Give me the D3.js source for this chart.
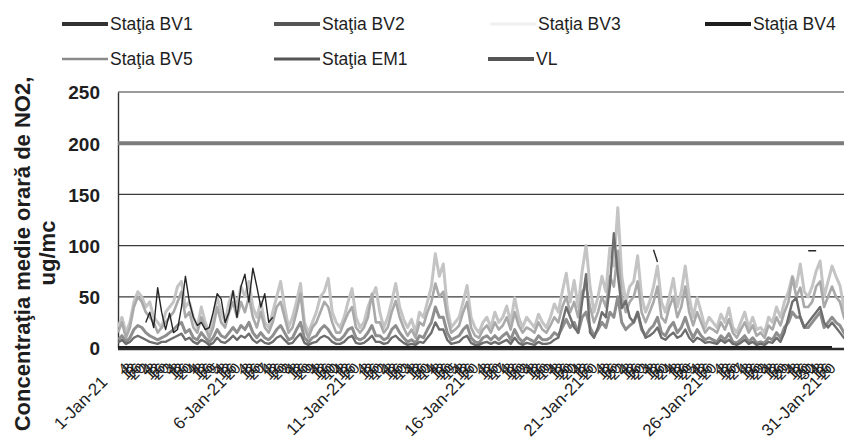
<!DOCTYPE html>
<html><head><meta charset="utf-8">
<script src="https://cdn.jsdelivr.net/npm/d3@7"></script>
<style>body{margin:0;background:#fff}svg{display:block}text{-webkit-font-smoothing:antialiased}</style>
</head><body><svg id="c" width="844" height="438"></svg>
<script>
// ---------- DATA ----------
const seriesNames = ["Staţia BV1","Staţia BV2","Staţia BV3","Staţia BV4","Staţia BV5","Staţia EM1","VL"];
const yTicks = [0, 50, 100, 150, 200, 250];
const gridTicks = [50, 100, 150, 250];
const majorDayLabels = ["1-Jan-21","6-Jan-21","11-Jan-21","16-Jan-21","21-Jan-21","26-Jan-21","31-Jan-21"];
const stepHours = 4;           // readings sampled every 4 hours (6 per day)
const vlValue = 200;           // limit value

// Staţia BV3 – lightest, tallest spikes
const bv3 = [
 20,30,15,25,45,55,  50,40,45,30,25,20,  35,40,45,60,65,40,  45,30,20,40,25,15,
 30,50,35,25,45,55,  40,60,50,65,40,30,  45,25,20,35,50,65,  40,20,30,45,63,25,
 15,25,35,50,55,68,  35,25,20,30,45,58,  30,20,25,40,50,59,  35,20,30,45,63,40,
 28,20,28,15,35,30,  45,60,92,70,82,40,  20,25,30,45,61,30,  20,15,25,30,20,35,
 25,30,41,25,49,30,  20,30,25,20,33,25,  20,30,43,35,55,73,  45,66,40,75,100,60,
 35,50,70,55,98,80,  137,70,45,60,65,90, 50,35,45,60,80,45,  35,50,68,40,55,80,
 50,30,49,35,20,30,  25,20,33,25,39,20,  15,25,35,20,30,18,  20,15,30,25,40,30,
 45,55,70,60,82,55,  50,60,75,85,50,65,  80,70,61,40,30,25
];
// Staţia BV5 – mid-light band
const bv5 = [
 15,25,10,20,40,50,  45,35,30,25,15,20,  25,30,35,45,55,30,  35,20,15,30,20,10,
 20,40,25,20,35,45,  30,45,35,50,30,20,  35,20,15,25,40,45,  30,15,20,35,53,20,
 10,20,25,35,45,40,  25,15,15,25,34,40,  20,15,20,30,53,25,  25,15,20,35,46,30,
 20,12,18,10,25,22,  35,45,63,50,55,30,  15,18,22,35,45,20,  12,10,18,22,15,25,
 18,22,30,18,35,22,  15,20,18,15,25,18,  15,22,30,25,40,50,  35,45,30,55,60,40,
 25,35,50,40,70,60,  95,50,35,45,50,65,  35,25,35,45,60,30,  25,40,50,30,40,60,
 35,22,35,25,15,20,  18,15,25,18,28,15,  10,18,25,15,22,12,  15,10,22,18,30,22,
 35,45,69,50,59,40,  40,45,60,65,40,50,  60,50,45,30,22,18
];
// Staţia BV2 – lower band
const bv2 = [
 8,12,6,10,18,22,    20,15,12,10,8,10,   12,15,18,22,25,15,  18,10,8,15,10,6,
 10,18,12,10,15,20,  15,22,18,25,15,10,  15,10,8,12,18,22,   15,8,10,18,25,10,
 6,10,12,18,22,18,   12,8,8,12,18,20,    10,8,10,15,22,12,   12,8,10,18,22,15,
 10,6,8,5,12,10,     18,25,40,30,30,15,  8,10,12,18,22,10,   6,5,10,12,8,12,
 8,12,15,8,18,10,    6,10,8,6,12,8,      8,10,15,12,20,28,   20,25,15,30,35,20,
 12,18,25,20,35,30,  50,25,18,22,25,35,  18,12,18,22,30,15,  12,20,25,15,20,30,
 18,10,18,12,8,10,   8,6,12,8,14,6,      5,8,12,6,10,5,      6,5,10,8,15,10,
 20,25,35,30,30,20,  20,25,30,35,20,25,  30,25,22,15,10,8
];
// Staţia EM1 – low, darker
const em1 = [
 5,8,4,6,10,12,      10,8,6,5,4,6,       6,8,10,12,14,8,     10,6,4,8,6,3,
 5,10,6,5,8,12,      8,12,10,14,8,5,     8,5,4,6,10,12,      8,4,5,10,14,5,
 3,5,6,10,12,10,     6,4,4,6,10,12,      5,4,5,8,12,6,       6,4,5,10,12,8,
 5,3,4,3,6,5,        10,15,25,18,18,8,   4,5,6,10,12,5,      3,3,5,6,4,6,
 4,6,8,4,10,5,       3,5,4,3,6,4,        4,5,8,10,25,40,     30,20,15,45,72,15,
 10,20,35,30,60,112, 72,39,46,30,25,35,  20,10,12,15,20,10,  8,12,15,10,12,18,
 10,6,10,8,5,6,      5,4,8,5,8,4,        3,5,8,4,6,3,        4,3,6,5,10,6,
 15,30,45,49,30,20,  25,30,35,40,25,20,  25,20,15,10,6,5
];
// Staţia BV1 – black, only partly present (null = no reading drawn)
const bv1 = [
 null,null,null,null,null,null,  null,25,35,20,59,35,  18,34,15,18,40,70,  45,30,22,25,18,20,
 35,53,48,25,35,56,  30,60,72,45,78,60,  40,53,25,30,null,null,  null,null,null,null,null,null,
 null,null,null,null,null,null,  null,null,null,null,null,null,  null,null,null,null,null,null,  null,null,null,null,null,null,
 null,null,null,null,null,null,  null,null,null,null,null,null,  null,null,null,null,null,null,  null,null,null,null,null,null,
 null,null,null,null,null,null,  null,null,null,null,null,null,  null,null,null,null,null,null,  null,null,null,null,null,null,
 null,null,null,null,null,null,  null,null,null,null,null,null,  null,null,null,96,84,null,  null,null,null,null,null,null,
 null,null,null,null,null,null,  null,null,null,null,null,null,  null,null,null,null,null,null,  null,null,null,null,null,null,
 null,null,null,null,null,null,  95,95,95,null,null,null,  null,null,null,null,null,null
];
// Staţia BV4 – daily readings (all at zero)
const bv4Daily = [0,0,0,0,0,0,0,0,0,0,0,0,0,0,0,0,0,0,0,0,0,0,0,0,0,0,0,0,0,0,0];

// ---------- STYLE ----------
const colors = {
  "Staţia BV1":"#262626","Staţia BV2":"#8e8e8e","Staţia BV3":"#c4c4c4","Staţia BV4":"#1e1e1e",
  "Staţia BV5":"#a9a9a9","Staţia EM1":"#6e6e6e","VL":"#7c7c7c"
};
const widths = {
  "Staţia BV1":1.4,"Staţia BV2":3,"Staţia BV3":3,"Staţia BV4":4,
  "Staţia BV5":2.6,"Staţia EM1":2.4,"VL":4
};
const legendColors = {
  "Staţia BV1":"#333","Staţia BV2":"#555","Staţia BV3":"#f0f0f0","Staţia BV4":"#1e1e1e",
  "Staţia BV5":"#8a8a8a","Staţia EM1":"#555","VL":"#555"
};
const legendWidths = {
  "Staţia BV1":4,"Staţia BV2":4,"Staţia BV3":3,"Staţia BV4":4,"Staţia BV5":2.5,"Staţia EM1":3,"VL":4
};

const svg = d3.select("#c");
const plotLeft = 118, plotTop = 92, plotBottom = 348;
const x = d3.scaleLinear().domain([0, 744]).range([plotLeft, plotLeft + 744 * 0.9917]);
const y = d3.scaleLinear().domain([0, 250]).range([plotBottom, plotTop]);
const W = 844;

svg.append("defs").append("clipPath").attr("id","clip")
  .append("rect").attr("x", plotLeft).attr("y", 0).attr("width", W - plotLeft).attr("height", plotBottom + 4);

// grid lines
svg.append("g").selectAll("line").data(gridTicks).join("line")
  .attr("x1", plotLeft).attr("x2", W).attr("y1", d => y(d)).attr("y2", d => y(d))
  .attr("stroke", "#3a3a3a").attr("stroke-width", 1.2);

// y axis
const yAxis = svg.append("g").attr("transform", `translate(${plotLeft},0)`)
  .call(d3.axisLeft(y).tickValues(yTicks).tickSize(0).tickPadding(18));
yAxis.select(".domain").attr("stroke", "#333").attr("stroke-width", 1.4);
yAxis.selectAll("text").attr("font-family", "'Liberation Sans', Arial, sans-serif")
  .attr("font-size", 19).attr("font-weight", "bold").attr("fill", "#1e1e1e").attr("dy", "0.36em");

// series
const plot = svg.append("g").attr("clip-path", "url(#clip)");
const lineIdx = d3.line().defined(d => d != null).x((d, i) => x(i * stepHours)).y(d => y(d));
function drawSeries(name, data) {
  plot.append("path").datum(data).attr("d", lineIdx).attr("fill", "none")
    .attr("stroke", colors[name]).attr("stroke-width", widths[name]).attr("stroke-linejoin", "round");
}
drawSeries("Staţia BV3", bv3);
drawSeries("Staţia BV5", bv5);
drawSeries("Staţia BV2", bv2);
drawSeries("Staţia EM1", em1);
drawSeries("Staţia BV1", bv1);

// BV4 daily
plot.append("path").datum(bv4Daily)
  .attr("d", d3.line().x((d, i) => x(i * 24)).y(d => y(d)))
  .attr("fill", "none").attr("stroke", colors["Staţia BV4"]).attr("stroke-width", widths["Staţia BV4"]);

// VL
plot.append("path").datum([vlValue, vlValue])
  .attr("d", d3.line().x((d, i) => i === 0 ? x(0) : x(744)).y(d => y(d)))
  .attr("fill", "none").attr("stroke", colors["VL"]).attr("stroke-width", widths["VL"]);

// x axis line
svg.append("line").attr("x1", plotLeft).attr("x2", W).attr("y1", plotBottom + 1).attr("y2", plotBottom + 1)
  .attr("stroke", "#2a2a2a").attr("stroke-width", 2.5);

// minor (hour) labels, densely overlapping
const minorVals = d3.range(0, 744, stepHours).filter(h => h % 120 !== 0 && x(h) < 834);
const xMinor = svg.append("g").attr("transform", `translate(0,${plotBottom})`)
  .call(d3.axisBottom(x).tickValues(minorVals).tickSize(0)
    .tickFormat(h => h % 24 === 0 ? String(h / 24 + 1) : String(h % 24)));
xMinor.select(".domain").remove();
xMinor.selectAll("text").attr("x", 0).attr("y", 0).attr("dy", 0)
  .attr("text-anchor", "end").attr("transform", "translate(8,21) rotate(-45)")
  .attr("font-family", "'Liberation Sans', Arial, sans-serif").attr("font-size", 15).attr("fill", "#1e1e1e");

// x axis labels: major dates
const majorVals = majorDayLabels.map((d, i) => i * 120);
const xMajor = svg.append("g").attr("transform", `translate(0,${plotBottom})`)
  .call(d3.axisBottom(x).tickValues(majorVals).tickSize(0).tickFormat((d, i) => majorDayLabels[i]));
xMajor.select(".domain").remove();
xMajor.selectAll("text").attr("x", 0).attr("y", 0).attr("dy", 0)
  .attr("text-anchor", "end").attr("transform", "translate(-10,35) rotate(-45)")
  .attr("font-family", "'Liberation Sans', Arial, sans-serif").attr("font-size", 17).attr("fill", "#1e1e1e");

// y axis title
const title = svg.append("g").attr("font-family", "'Liberation Sans', Arial, sans-serif")
  .attr("font-weight", "bold").attr("font-size", 22).attr("fill", "#1e1e1e").attr("text-anchor", "middle");
title.append("text").attr("transform", "translate(30,254) rotate(-90)").text("Concentraţia medie orară de NO2,");
title.append("text").attr("transform", "translate(55,253) rotate(-90)").text("ug/mc");

// legend
const legendPos = [[62,24],[274,24],[490,24],[705,24],[62,59],[274,59],[488,59]];
const lg = svg.append("g").attr("font-family", "'Liberation Sans', Arial, sans-serif").attr("font-size", 17.5).attr("fill", "#1e1e1e");
seriesNames.forEach((name, i) => {
  const [lx, ly] = legendPos[i];
  lg.append("line").attr("x1", lx).attr("x2", lx + 46).attr("y1", ly).attr("y2", ly)
    .attr("stroke", legendColors[name]).attr("stroke-width", legendWidths[name]);
  lg.append("text").attr("x", lx + 48).attr("y", ly + 6).text(name);
});
</script>
</body></html>
